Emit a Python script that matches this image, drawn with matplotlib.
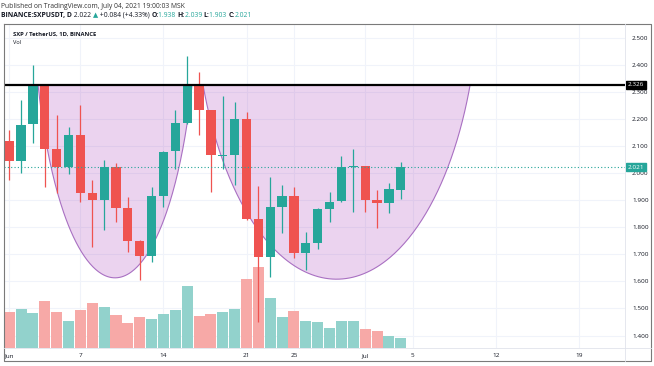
import numpy as np
import matplotlib
matplotlib.use("Agg")
import matplotlib.pyplot as plt
from matplotlib.lines import Line2D
from matplotlib.patches import Rectangle

# ---------------- data ----------------
dates = ["Jun 1", "Jun 2", "Jun 3", "Jun 4", "Jun 5", "Jun 6", "Jun 7", "Jun 8", "Jun 9", "Jun 10",
         "Jun 11", "Jun 12", "Jun 13", "Jun 14", "Jun 15", "Jun 16", "Jun 17", "Jun 18", "Jun 19", "Jun 20",
         "Jun 21", "Jun 22", "Jun 23", "Jun 24", "Jun 25", "Jun 26", "Jun 27", "Jun 28", "Jun 29", "Jun 30",
         "Jul 1", "Jul 2", "Jul 3", "Jul 4"]
opens = [2.119, 2.044, 2.181, 2.326, 2.087, 2.021, 2.140, 1.925, 1.900, 2.023,
         1.871, 1.750, 1.694, 1.915, 2.081, 2.183, 2.326, 2.232, 2.063, 2.065,
         2.198, 1.829, 1.689, 1.873, 1.915, 1.706, 1.743, 1.868, 1.896, 2.022,
         2.024, 1.900, 1.888, 1.938]
highs = [2.159, 2.269, 2.399, 2.330, 2.214, 2.171, 2.251, 1.974, 2.048, 2.036,
         1.913, 1.752, 1.949, 2.080, 2.232, 2.432, 2.374, 2.233, 2.284, 2.263,
         2.226, 1.952, 1.984, 1.956, 1.950, 1.783, 1.869, 1.931, 2.063, 2.087,
         2.025, 1.937, 1.964, 2.039]
lows = [1.974, 2.001, 2.112, 1.949, 1.925, 1.996, 1.894, 1.726, 1.790, 1.820,
        1.710, 1.605, 1.670, 1.876, 2.014, 2.180, 2.140, 1.931, 2.014, 1.956,
        1.826, 1.450, 1.617, 1.780, 1.685, 1.642, 1.718, 1.820, 1.894, 1.857,
        1.857, 1.796, 1.851, 1.903]
closes = [2.044, 2.178, 2.326, 2.087, 2.021, 2.140, 1.925, 1.900, 2.023, 1.871,
          1.750, 1.694, 1.915, 2.079, 2.183, 2.326, 2.232, 2.065, 2.067, 2.198,
          1.829, 1.689, 1.873, 1.915, 1.706, 1.743, 1.868, 1.894, 2.023, 2.025,
          1.900, 1.888, 1.940, 2.021]
volumes = [3.56, 3.86, 3.46, 4.73, 3.60, 2.73, 3.83, 4.50, 4.13, 3.33,
           2.50, 3.06, 2.93, 3.40, 3.80, 6.16, 3.16, 3.43, 3.56, 3.86,
           6.93, 8.10, 5.03, 3.10, 3.66, 2.73, 2.56, 1.96, 2.66, 2.73,
           1.90, 1.70, 1.16, 1.00]

tick_days = [0, 6, 13, 20, 24, 30, 34, 41, 48]
tick_labels = ["Jun", "7", "14", "21", "25", "Jul", "5", "12", "19"]
price_ticks = [1.4, 1.5, 1.6, 1.7, 1.8, 1.9, 2.0, 2.1, 2.2, 2.3, 2.4, 2.5]

resistance = 2.326
last_price = 2.021
# cup drawings: (left day, right day, bottom price)
cups = [(2.43, 15.41, 1.613), (16.33, 38.85, 1.608)]
cup_curv = 1.1  # vertical semi-axis of the elliptical arc (price units)

# ---------------- style ----------------
UP = "#26A69A"
DOWN = "#EF5350"
UP_V = "#92D2CC"
DOWN_V = "#F7A9A7"
TXT = "#131722"
GRID = "#F0F3FA"
FAM = ["Open Sans", "DejaVu Sans"]

W, H = 654, 366
fig = plt.figure(figsize=(W / 100, H / 100), dpi=100)
fig.patch.set_facecolor("white")


def fx(px):
    return px / W


def fy(py):
    return 1 - py / H


L, R, T, B = 4, 625, 23.5, 348
ax = fig.add_axes([fx(L), fy(B), fx(R) - fx(L), fy(T) - fy(B)])
ax.set_facecolor("white")
x = np.arange(len(dates))
o = np.array(opens); c = np.array(closes); h = np.array(highs); lo = np.array(lows)
v = np.array(volumes)
up = c >= o

ax.set_xlim(-0.44, 51.9)
ax.set_ylim(1.354, 2.5517)
VOL_TOP = 32.45

# grid
for d in tick_days:
    ax.axvline(d, color=GRID, lw=0.8, zorder=0)
for p in price_ticks:
    ax.axhline(p, color=GRID, lw=0.8, zorder=0)

# volume bars (axes-fraction heights via x-axis transform)
ax.bar(x, v / VOL_TOP, width=0.93, bottom=0,
       color=np.where(up, UP_V, DOWN_V), transform=ax.get_xaxis_transform(), zorder=1)

# cups
for (x0, x1, bot) in cups:
    cx = (x0 + x1) / 2
    hw = (x1 - x0) / 2
    D = resistance - bot
    th0 = np.arccos((cup_curv - D) / cup_curv)
    a = hw / np.sin(th0)
    th = np.linspace(-th0, th0, 200)
    xs = cx + a * np.sin(th)
    ys = bot + cup_curv - cup_curv * np.cos(th)
    ax.fill(xs, ys, color=(156 / 255, 39 / 255, 176 / 255, 0.2), lw=0, zorder=2)
    ax.plot(xs, ys, color="#A970C2", lw=0.8, zorder=2.1)

# candles
ax.vlines(x, lo, h, colors=np.where(up, UP, DOWN), lw=0.9, zorder=3)
body = np.maximum(np.abs(c - o), 0.004)
ax.bar(x, body, bottom=np.minimum(o, c), width=0.78,
       color=np.where(up, UP, DOWN), zorder=3.1)

# resistance line & last price line
ax.axhline(resistance, color="black", lw=1.6, zorder=5)
ax.axhline(last_price, color=UP, lw=0.8, ls=(0, (1, 2)), zorder=4)

# axes styling
for s in ax.spines.values():
    s.set_visible(False)
ax.yaxis.tick_right()
ax.set_yticks(price_ticks)
ax.set_yticklabels([f"{p:.3f}" for p in price_ticks])
ax.set_xticks(tick_days)
ax.set_xticklabels(tick_labels)
ax.tick_params(axis="y", length=0, pad=5, labelsize=4.6, labelcolor=TXT)
ax.tick_params(axis="x", length=0, pad=3.5, labelsize=4.6, labelcolor=TXT)
for lab in ax.get_xticklabels() + ax.get_yticklabels():
    lab.set_family(FAM)

# price scale label boxes
ytr = ax.get_yaxis_transform()
for val, bg in [(resistance, "black"), (last_price, UP)]:
    ax.text(1.0 + 3 / (R - L), val, f"{val:.3f}", transform=ytr, ha="left", va="center",
            fontsize=4.6, color="white", family=FAM, zorder=10, clip_on=False,
            bbox=dict(boxstyle="square,pad=0.25", fc=bg, ec=bg))

# frame lines
fig.add_artist(Line2D([fx(L), fx(651), fx(651), fx(L), fx(L)],
                      [fy(T), fy(T), fy(361), fy(361), fy(T)], color="#7A7A7A", lw=0.8))
fig.add_artist(Line2D([fx(R), fx(R)], [fy(T), fy(361)], color="#E0E3EB", lw=0.6))
fig.add_artist(Line2D([fx(L), fx(651)], [fy(B), fy(B)], color="#E0E3EB", lw=0.6))

# header texts
renderer = fig.canvas.get_renderer()


def fit_size(text, target_w, weight="normal"):
    t = fig.text(0, 0, text, fontsize=10, family=FAM, fontweight=weight)
    w = t.get_window_extent(renderer).width
    t.remove()
    return 10 * target_w / w


s1 = fit_size("Published on TradingView.com, July 04, 2021 19:00:03 MSK", 185)
fig.text(fx(1), fy(6), "Published on TradingView.com, July 04, 2021 19:00:03 MSK",
         fontsize=s1, family=FAM, color="#333333", va="center")

parts = [("BINANCE:SXPUSDT, D", TXT, "bold"), (" 2.022 ", TXT, "normal"), ("▲", UP, "normal"),
         (" +0.084 (+4.33%) ", TXT, "normal"), ("O:", TXT, "bold"), ("1.938 ", UP, "normal"),
         ("H:", TXT, "bold"), ("2.039 ", UP, "normal"), ("L:", TXT, "bold"), ("1.903 ", UP, "normal"),
         ("C:", TXT, "bold"), ("2.021", UP, "normal")]


def draw_runs(x0, yc, parts, size):
    xx = x0
    for txt, col, wt in parts:
        t = fig.text(fx(xx), fy(yc), txt, fontsize=size, family=FAM, fontweight=wt,
                     color=col, va="center", ha="left")
        xx += t.get_window_extent(renderer).width
    return xx


# measure total width at size 10
tmp = 0
for txt, col, wt in parts:
    t = fig.text(0, 0, txt, fontsize=10, family=FAM, fontweight=wt)
    tmp += t.get_window_extent(renderer).width
    t.remove()
s2 = 10 * 249 / tmp
draw_runs(1, 15.5, parts, s2)

s3 = fit_size("SXP / TetherUS, 1D, BINANCE", 84, "bold")
fig.text(fx(13), fy(34), "SXP / TetherUS, 1D, BINANCE", fontsize=s3, family=FAM,
         fontweight="bold", color=TXT, va="center")
fig.text(fx(13), fy(42), "Vol", fontsize=s3 * 0.95, family=FAM, color=TXT, va="center")

fig.savefig("out.png", dpi=100)
